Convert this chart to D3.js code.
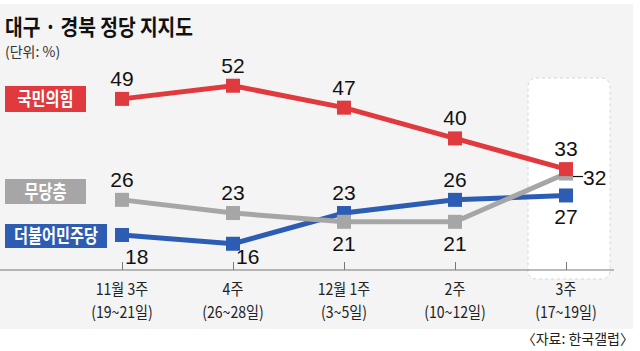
<!DOCTYPE html>
<html>
<head>
<meta charset="utf-8">
<script src="https://cdn.jsdelivr.net/npm/d3@7"></script>
<style>
  body { margin: 0; background: #fff; }
  text { font-family: "Noto Sans CJK KR", "Noto Sans", sans-serif; }
  .num { font-family: "Liberation Sans Narrow", "Liberation Sans", sans-serif; font-size: 21px; fill: #111; }
</style>
</head>
<body>
<div id="chart"></div>
<script>
// data
var weeks = ["11월 3주", "4주", "12월 1주", "2주", "3주"]
var dates = ["(19~21일)", "(26~28일)", "(3~5일)", "(10~12일)", "(17~19일)"]
var ppp = [49, 52, 47, 40, 33]      // 국민의힘
var noParty = [26, 23, 21, 21, 32]  // 무당층
var dem = [18, 16, 23, 26, 27]      // 더불어민주당

var W = 640, H = 351

var svg = d3.select("#chart")
    .append("svg")
    .attr("width", W)
    .attr("height", H)

// squeeze a text horizontally, the way the print font looks
function condense(sel, k) {
    sel.each(function () {
        var len = this.getComputedTextLength()
        d3.select(this)
            .attr("textLength", len * k)
            .attr("lengthAdjust", "spacingAndGlyphs")
    })
}

// light gray panel
svg.append("rect")
    .attr("x", 0).attr("y", 4)
    .attr("width", 633).attr("height", 325)
    .attr("fill", "#f4f4f4")

// highlight box for latest week
svg.append("rect")
    .attr("x", 528).attr("y", 78)
    .attr("width", 82).attr("height", 201)
    .attr("rx", 8)
    .attr("fill", "#fff")
    .attr("stroke", "#d6d6d6")
    .attr("stroke-dasharray", "3,3")

var x = d3.scalePoint()
    .domain(weeks)
    .range([122, 566])

var y = d3.scaleLinear()
    .domain([0, 60])
    .range([314, 50.6])

// title
svg.append("text")
    .attr("x", 5).attr("y", 35)
    .attr("font-size", 22)
    .attr("font-weight", "bold")
    .attr("fill", "#111")
    .attr("textLength", 188)
    .attr("lengthAdjust", "spacingAndGlyphs")
    .text("대구 · 경북 정당 지지도")

svg.append("text")
    .attr("x", 5).attr("y", 57)
    .attr("font-size", 14)
    .attr("fill", "#333")
    .text("(단위: %)")

// x axis
var axisY = 270
svg.append("line")
    .attr("x1", 0).attr("x2", 614)
    .attr("y1", axisY).attr("y2", axisY)
    .attr("stroke", "#777")
    .attr("stroke-width", 1)

var xAxis = svg.append("g")
    .attr("transform", "translate(0," + axisY + ")")
    .call(d3.axisBottom(x).tickSize(-8).tickFormat(""))
xAxis.select(".domain").remove()
xAxis.selectAll(".tick line").attr("stroke", "#777")

svg.append("g").selectAll("text")
    .data(weeks)
    .enter().append("text")
    .attr("x", function (d) { return x(d) })
    .attr("y", 295)
    .attr("text-anchor", "middle")
    .attr("font-size", 16)
    .attr("fill", "#222")
    .text(function (d) { return d })
    .call(condense, 0.88)

svg.append("g").selectAll("text")
    .data(dates)
    .enter().append("text")
    .attr("x", function (d, i) { return x(weeks[i]) })
    .attr("y", 318)
    .attr("text-anchor", "middle")
    .attr("font-size", 16)
    .attr("fill", "#222")
    .text(function (d) { return d })
    .call(condense, 0.88)

// series
var series = [
    { name: "더불어민주당", values: dem, color: "#2d5db3",
      pos: ["br", "br", "up", "up", "down"],
      box: { y: 224, w: 102, h: 24 } },
    { name: "무당층", values: noParty, color: "#a6a6a6",
      pos: ["up", "up", "down", "down", "right"],
      box: { y: 179, w: 81, h: 25 } },
    { name: "국민의힘", values: ppp, color: "#e03a3e",
      pos: ["up", "up", "up", "up", "up"],
      box: { y: 86, w: 81, h: 26 } }
]

var line = d3.line()
    .x(function (d, i) { return x(weeks[i]) })
    .y(function (d) { return y(d) })

series.forEach(function (s) {
    svg.append("path")
        .datum(s.values)
        .attr("fill", "none")
        .attr("stroke", s.color)
        .attr("stroke-width", 5)
        .attr("d", line)

    svg.append("g").selectAll("rect")
        .data(s.values)
        .enter().append("rect")
        .attr("x", function (d, i) { return x(weeks[i]) - 7 })
        .attr("y", function (d) { return y(d) - 7 })
        .attr("width", 14)
        .attr("height", 14)
        .attr("fill", s.color)

    // legend box
    svg.append("rect")
        .attr("x", 5).attr("y", s.box.y)
        .attr("width", s.box.w).attr("height", s.box.h)
        .attr("fill", s.color)
    svg.append("text")
        .attr("x", 5 + s.box.w / 2)
        .attr("y", s.box.y + s.box.h / 2 + 7)
        .attr("text-anchor", "middle")
        .attr("font-size", 19)
        .attr("font-weight", "bold")
        .attr("fill", "#fff")
        .text(s.name)
        .call(condense, 0.8)
})

// value labels (drawn after all lines)
series.forEach(function (s) {
    s.values.forEach(function (v, i) {
        var px = x(weeks[i]), py = y(v), p = s.pos[i]
        var t = svg.append("text").attr("class", "num").text(v)
        if (p === "up") {
            t.attr("x", px).attr("y", py - 13).attr("text-anchor", "middle")
        } else if (p === "down") {
            t.attr("x", px).attr("y", py + 29).attr("text-anchor", "middle")
        } else if (p === "br") {
            t.attr("x", px + 3).attr("y", axisY - 6).attr("text-anchor", "start")
        } else if (p === "right") {
            svg.append("line")
                .attr("x1", px + 7).attr("x2", px + 17)
                .attr("y1", py + 3).attr("y2", py + 3)
                .attr("stroke", "#111").attr("stroke-width", 1.2)
            t.attr("x", px + 17).attr("y", py + 11).attr("text-anchor", "start")
        }
    })
})

// source
svg.append("text")
    .attr("x", 634).attr("y", 344)
    .attr("text-anchor", "end")
    .attr("font-size", 14)
    .attr("fill", "#222")
    .text("〈자료: 한국갤럽〉")
</script>
</body>
</html>
